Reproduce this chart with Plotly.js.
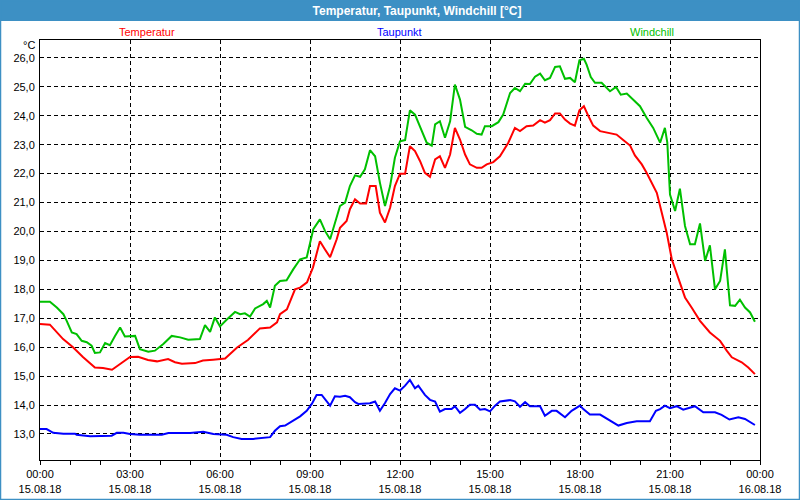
<!DOCTYPE html>
<html>
<head>
<meta charset="utf-8">
<script src="https://cdn.plot.ly/plotly-3.0.1.min.js"></script>
<style>html,body{margin:0;padding:0;background:#fff;}#chart{width:800px;height:500px;}</style>
</head>
<body>
<div id="chart"></div>
<script>
// Time in hours since 15.08.18 00:00
const tempT = [0,0.33,0.77,1.1,1.43,1.83,2.1,2.4,2.67,3.0,3.27,3.6,3.9,4.27,4.5,4.73,5.17,5.43,5.77,6.17,6.57,6.93,7.33,7.67,7.9,8.0,8.23,8.5,8.67,8.9,9.1,9.33,9.5,9.67,9.89,10.0,10.22,10.33,10.5,10.67,10.87,11.0,11.19,11.33,11.5,11.67,11.83,12.0,12.17,12.33,12.5,12.67,12.83,13.0,13.17,13.33,13.5,13.67,13.83,14.0,14.17,14.33,14.56,14.72,14.89,15.11,15.33,15.61,15.83,16.0,16.22,16.44,16.67,16.83,17.0,17.17,17.33,17.5,17.67,17.83,17.98,18.13,18.28,18.44,18.67,19.0,19.22,19.44,19.67,19.83,20.06,20.22,20.39,20.56,20.67,20.89,21.06,21.28,21.5,21.72,22.0,22.33,22.67,22.89,23.06,23.39,23.61,23.83];
const tempV = [16.8,16.78,16.28,16.0,15.66,15.3,15.28,15.22,15.42,15.66,15.67,15.56,15.51,15.59,15.48,15.43,15.45,15.54,15.57,15.61,15.99,16.25,16.65,16.68,16.86,17.14,17.31,18.0,18.06,18.24,18.76,19.66,19.38,19.11,19.73,20.13,20.36,20.77,21.11,20.97,20.97,21.57,21.57,20.65,20.31,20.82,21.57,22.0,22.0,22.95,22.78,22.43,22.03,21.89,22.49,22.6,22.2,22.66,23.58,23.18,22.66,22.32,22.2,22.2,22.32,22.4,22.6,23.07,23.58,23.47,23.64,23.66,23.85,23.76,23.85,24.08,24.08,23.87,23.73,23.66,24.19,24.33,23.99,23.66,23.47,23.41,23.35,23.16,22.97,22.63,22.32,22.03,21.69,21.34,20.88,19.96,19.04,18.35,17.72,17.37,16.91,16.51,16.22,15.88,15.65,15.48,15.3,15.07];

const dewT = [0,0.22,0.44,0.78,1.17,1.22,1.67,2.0,2.39,2.56,2.78,3.0,3.33,4.06,4.28,5.0,5.44,5.78,6.22,6.44,6.72,7.11,7.67,7.83,8.0,8.17,8.39,8.67,8.89,9.06,9.22,9.39,9.67,9.83,10.0,10.17,10.33,10.5,10.61,11.0,11.17,11.33,11.5,11.67,11.83,12.0,12.17,12.33,12.5,12.61,12.83,13.0,13.17,13.33,13.5,13.72,13.83,14.0,14.17,14.33,14.5,14.67,14.83,15.0,15.17,15.33,15.67,15.83,16.0,16.17,16.33,16.67,16.83,17.06,17.22,17.5,17.72,18.0,18.11,18.33,18.67,19.0,19.28,19.56,19.89,20.33,20.53,20.67,20.83,21.0,21.22,21.44,21.61,21.83,22.11,22.5,22.72,22.98,23.28,23.5,23.83];
const dewV = [13.17,13.17,13.04,13.01,13.01,12.97,12.92,12.92,12.94,13.04,13.04,13.0,12.97,12.97,13.03,13.03,13.08,13.0,12.97,12.89,12.83,12.83,12.89,13.11,13.27,13.29,13.43,13.61,13.8,14.04,14.35,14.35,13.98,14.3,14.29,14.32,14.27,14.1,14.04,14.06,14.12,13.8,14.07,14.38,14.58,14.5,14.67,14.87,14.58,14.67,14.35,14.18,14.12,13.77,13.86,13.86,13.96,13.73,13.86,14.01,14.01,13.84,13.86,13.78,13.98,14.12,14.17,14.13,13.94,14.1,13.96,13.96,13.63,13.8,13.8,13.58,13.8,13.98,13.86,13.67,13.67,13.46,13.29,13.38,13.44,13.44,13.8,13.86,13.98,13.89,13.96,13.84,13.89,13.96,13.75,13.75,13.66,13.5,13.58,13.52,13.31];

const windT = [0,0.33,0.56,0.78,0.89,1.06,1.22,1.39,1.56,1.72,1.83,2.0,2.17,2.33,2.5,2.67,2.83,3.17,3.33,3.61,3.83,4.11,4.39,4.67,4.94,5.33,5.5,5.67,5.83,6.0,6.22,6.5,6.67,6.83,7.0,7.17,7.44,7.56,7.67,7.83,8.0,8.22,8.44,8.67,8.89,9.11,9.33,9.5,9.67,9.83,10.0,10.17,10.33,10.5,10.67,10.83,11.0,11.17,11.33,11.5,11.67,11.83,12.0,12.17,12.33,12.5,12.67,12.89,13.06,13.17,13.33,13.5,13.67,13.83,14.0,14.17,14.39,14.56,14.72,14.83,15.06,15.28,15.44,15.67,15.83,16.0,16.17,16.33,16.5,16.67,16.83,17.0,17.17,17.33,17.5,17.67,17.83,17.98,18.13,18.22,18.36,18.5,18.72,19.0,19.2,19.36,19.56,19.78,20.0,20.22,20.44,20.67,20.83,20.91,20.97,21.0,21.17,21.33,21.5,21.67,21.83,22.0,22.17,22.33,22.5,22.67,22.83,23.0,23.17,23.33,23.5,23.67,23.83];
const windV = [17.57,17.57,17.37,17.14,16.91,16.51,16.45,16.22,16.17,16.05,15.8,15.82,16.14,16.07,16.39,16.68,16.37,16.39,15.93,15.84,15.88,16.11,16.39,16.34,16.26,16.28,16.76,16.53,17.03,16.72,16.95,17.22,17.14,17.17,17.06,17.34,17.49,17.6,17.37,18.12,18.29,18.31,18.69,19.04,19.1,20.08,20.42,20.02,19.73,20.31,20.88,21.0,21.57,21.94,21.89,22.15,22.81,22.6,21.69,20.88,21.57,22.55,23.12,23.16,24.19,24.04,23.64,23.07,22.97,23.7,23.81,23.24,23.81,25.08,24.56,23.62,23.5,23.38,23.35,23.64,23.64,23.78,24.04,24.79,24.96,24.85,25.11,25.1,25.35,25.46,25.23,25.31,25.69,25.71,25.28,25.31,25.16,25.92,25.97,25.77,25.34,25.14,25.14,24.85,25.0,24.73,24.77,24.56,24.33,23.93,23.58,23.07,23.58,23.07,21.69,21.28,20.71,21.48,20.19,19.56,19.56,20.28,18.98,19.52,18.0,18.29,19.38,17.45,17.43,17.64,17.37,17.2,16.88];

const seriesNames = ['Temperatur', 'Taupunkt', 'Windchill'];
const seriesColors = ['#ff0000', '#0000ff', '#00c000'];
const tickHours = [0,3,6,9,12,15,18,21,24];
const tickTimes = ['00:00','03:00','06:00','09:00','12:00','15:00','18:00','21:00','00:00'];
const tickDates = ['15.08.18','15.08.18','15.08.18','15.08.18','15.08.18','15.08.18','15.08.18','15.08.18','16.08.18'];
const titleText = 'Temperatur, Taupunkt, Windchill [°C]';
const unitText = '°C';

const FONT = 'Liberation Sans, Arial, sans-serif';
const W = 800, H = 500, ML = 40, MR = 40, MT = 40, MB = 40;
const PW = W - ML - MR, PH = H - MT - MB;
const px = v => (v - ML) / PW;          // pixel x -> paper x
const py = v => (H - MB - v) / PH;      // pixel y -> paper y

const mk = (x, y, i) => ({
  x: x, y: y, type: 'scatter', mode: 'lines', name: seriesNames[i],
  line: {color: seriesColors[i], width: 2}, hoverinfo: 'skip'
});
const data = [mk(tempT, tempV, 0), mk(dewT, dewV, 1), mk(windT, windV, 2)];

const legendX = [147, 399, 652];
const annotations = seriesNames.map((n, i) => ({
  text: n, xref: 'paper', yref: 'paper', x: px(legendX[i]), y: py(32),
  xanchor: 'center', yanchor: 'middle', showarrow: false,
  font: {family: FONT, size: 11, color: seriesColors[i]}
}));
annotations.push({
  text: unitText, xref: 'paper', yref: 'paper', x: px(37), y: py(45),
  xanchor: 'right', yanchor: 'middle', showarrow: false,
  font: {family: FONT, size: 11, color: '#000'}
});

const layout = {
  width: W, height: H,
  margin: {l: ML, r: MR, t: MT, b: MB, pad: 0},
  paper_bgcolor: '#ffffff', plot_bgcolor: '#ffffff',
  separators: ',.',
  showlegend: false,
  font: {family: FONT, size: 11, color: '#000'},
  title: {text: '<b>' + titleText + '</b>', x: 417 / W, xanchor: 'center', xref: 'container',
          y: 1 - 10.5 / H, yanchor: 'middle', yref: 'container',
          font: {family: FONT, size: 12, color: '#ffffff'}},
  xaxis: {
    range: [0, 24], tickmode: 'array', tickvals: tickHours,
    ticktext: tickTimes.map((t, i) => t + '<br>' + tickDates[i]),
    showline: true, mirror: true, linecolor: '#000', linewidth: 1,
    ticks: 'outside', ticklen: 4, tickcolor: '#000',
    showgrid: true, gridcolor: '#000', gridwidth: 1, griddash: '4px,3px',
    zeroline: false, fixedrange: true,
    minor: {dtick: 1, tick0: 0, ticks: 'outside', ticklen: 4, tickcolor: '#000', showgrid: false},
    tickfont: {family: FONT, size: 11, color: '#000'}
  },
  yaxis: {
    range: [12.1, 26.62], tick0: 13, dtick: 1, tickformat: '.1f',
    showline: true, mirror: true, linecolor: '#000', linewidth: 1,
    ticks: '', ticklabelstandoff: 2,
    showgrid: true, gridcolor: '#000', gridwidth: 1, griddash: '4px,3px',
    zeroline: false, fixedrange: true,
    tickfont: {family: FONT, size: 11, color: '#000'}
  },
  shapes: [
    {type: 'rect', xref: 'paper', yref: 'paper', x0: px(-2), x1: px(802), y0: py(21), y1: py(-2),
     fillcolor: '#3d90c4', line: {width: 0}, layer: 'below'},
    {type: 'rect', xref: 'paper', yref: 'paper', x0: px(0.5), x1: px(799.5), y0: py(499.5), y1: py(0.5),
     fillcolor: 'rgba(0,0,0,0)', line: {color: '#3d90c4', width: 1.5}, layer: 'above'}
  ],
  annotations: annotations
};

Plotly.newPlot('chart', data, layout, {displayModeBar: false, staticPlot: true});
</script>
</body>
</html>
